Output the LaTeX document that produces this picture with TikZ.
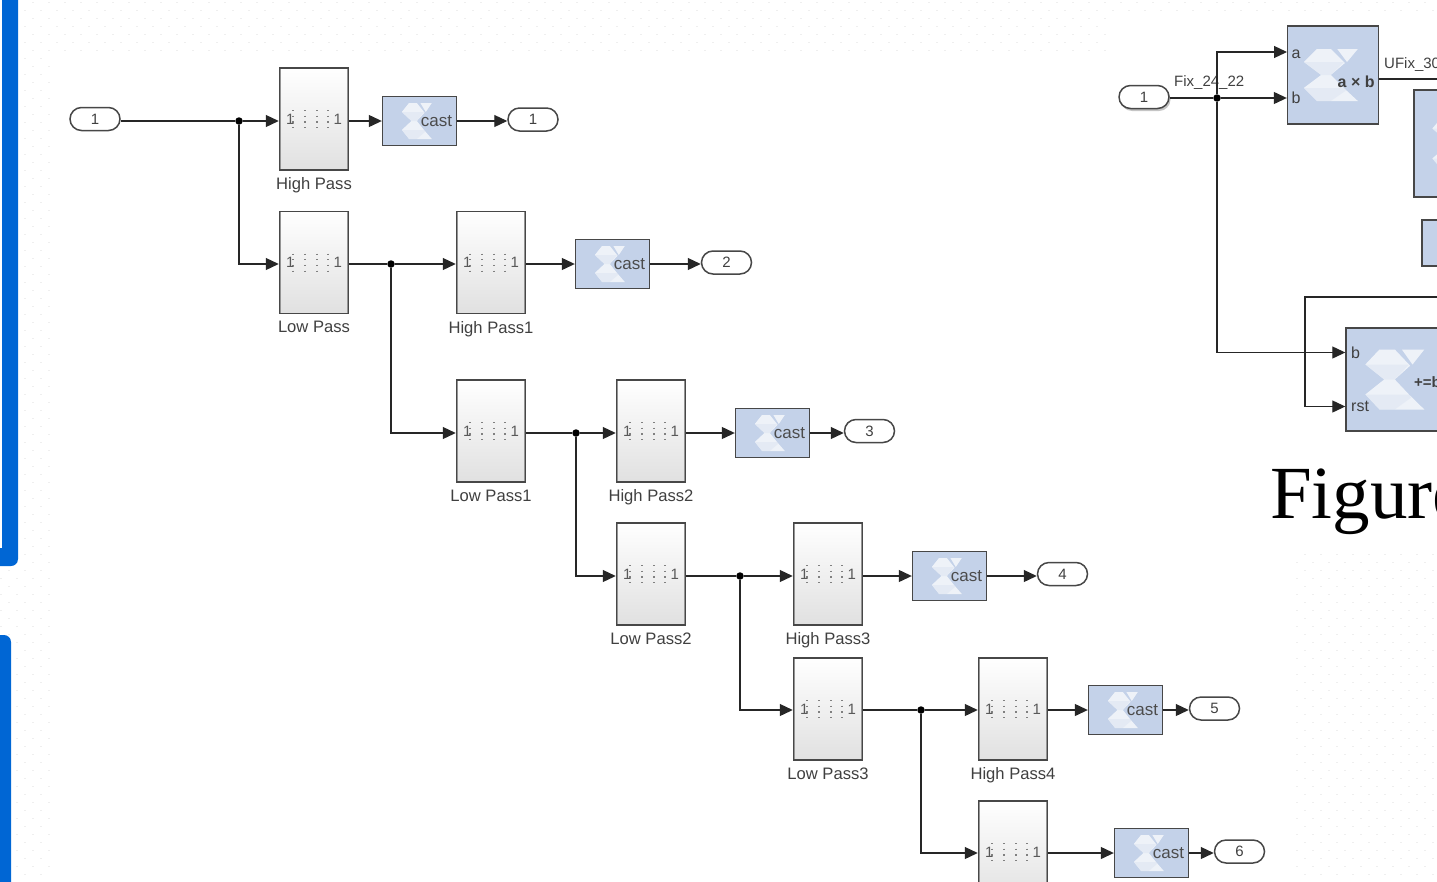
\documentclass[tikz,border=0pt]{standalone}
\usepackage{fontspec}
\setmainfont{Liberation Sans}
\newfontfamily\figfont{Liberation Serif}
\usetikzlibrary{arrows.meta,shadows}
\definecolor{blockblue}{HTML}{C4D2E9}
\definecolor{barblue}{HTML}{0066D4}
\definecolor{griddot}{HTML}{EFEFEF}
\newcommand{\xlogo}[4]{% block, left offset, width, height
	\begin{scope}[shift={(#1.west)}, xshift=#2pt, yshift=0.5*#4 pt, x=#3pt, y=-#4pt]
		\fill[blockpale] (.24,0) -- (.5,0) -- (.76,.27) -- (.5,.5) -- (.74,.75) -- (1,1) -- (.24,1) -- (0,.75) -- (.32,.5) -- (0,.25) -- cycle;
		\fill[blockpale] (.62,0) -- (1,0) -- (.8,.25) -- cycle;
		\fill[blockshade] (0,.25) -- (.74,.25) -- (.5,.5) -- (.32,.5) -- cycle;
		\fill[blockshade] (0,.75) -- (.74,.75) -- (.78,.8) -- (.5,1) -- (.24,1) -- cycle;
	\end{scope}}
\newcommand{\castblock}[3]{% name, x, y
	\node[cst] (#1) at (#2,#3) {};
	\xlogo{#1}{20}{30}{36}
	\node[csttxt] (#1t) at ([xshift=-5pt]#1.east) {cast};}
\newcommand{\filtmark}{%
	\draw[black!42, line width=3.4pt] (path picture bounding box.north west) -- (path picture bounding box.south west);
	\draw[black!42, line width=3.4pt] (path picture bounding box.north east) -- (path picture bounding box.south east);
	\foreach \c in {-21,-9,3,14}
		\draw[black!50, line width=1.1pt, dash pattern=on 1.1pt off 4.6pt] ([xshift=\c pt, yshift=9pt]path picture bounding box.center) -- ++(0,-20pt);}
\tikzset{
	blockpale/.style = {fill=white, fill opacity=.72},
	blockshade/.style = {fill=blockblue, fill opacity=.22},
	txt/.style = {text=black!75, font=\fontsize{16}{16}\selectfont, inner sep=0pt},
	filt/.style = {draw=black!72, line width=1.5pt, minimum width=69pt, minimum height=102pt, inner sep=0pt,
		top color=white, middle color=white!98!black, bottom color=black!12, text=black!65,
		font=\fontsize{15}{15}\selectfont, path picture={\filtmark},
		label={[txt, font=\fontsize{16.6}{17}\selectfont, yshift=-7pt]below:#1}},
	cst/.style = {draw=black!72, line width=1.4pt, fill=blockblue, minimum width=74pt, minimum height=49pt, inner sep=0pt},
	csttxt/.style = {anchor=east, inner sep=0pt, text=black!70, font=\fontsize{17}{17}\selectfont},
	blk/.style = {draw=black!72, line width=1.4pt, fill=blockblue, inner sep=0pt},
	port/.style = {draw=black!72, line width=1.5pt, fill=white, rounded corners=11.5pt, minimum width=50pt, minimum height=23pt,
		inner sep=0pt, text=black!75, font=\fontsize{15}{15}\selectfont},
	jn/.style = {circle, fill=black, inner sep=0pt, minimum size=7.5pt},
	wire/.style = {line width=1.2pt, draw=black!85, -{Triangle[length=13pt,width=12pt]}},
	plain/.style = {line width=1.2pt, draw=black!85}
}
\begin{document}
\begin{tikzpicture}[x=1pt, y=-1pt]
	\useasboundingbox (0,0) rectangle (1437,881);
	\clip (0,0) rectangle (1437,881);
	
	% page dots
	\foreach \r in {2.7,18.7,...,881}
		\draw[griddot, line width=1.4pt, dash pattern=on 1.4pt off 14.6pt] (0.3,\r) -- (1437,\r);
	\foreach \r in {10.7,26.7,...,881}
		\draw[griddot, line width=1.4pt, dash pattern=on 1.4pt off 14.6pt] (8.3,\r) -- (1437,\r);
	\fill[white] (52,56) rectangle (1295,881);
	\fill[white] (1108,14) rectangle (1437,549);
	\fill[barblue, rounded corners=7pt] (-10,-10) rectangle (18,566);
	\fill[white] (0,0) rectangle (1.8,548);
	\fill[barblue, rounded corners=7pt] (-10,635) rectangle (11,900);
	
	% junctions
	\node[jn] (d1) at (239,121) {};
	\node[jn] (d2) at (391,264) {};
	\node[jn] (d3) at (576,433) {};
	\node[jn] (d4) at (740,576) {};
	\node[jn] (d5) at (921,710) {};
	\node[jn] (d6) at (1217,98) {};
	
	% filter tree
	\node[port] (in1) at (95,119) {1};
	\node[filt=High Pass] (hp1) at (314,119) {\raisebox{-2pt}{\makebox[56pt]{1\hfill 1}}};
	\node[filt=Low Pass] (lp1) at (314,262.5) {\raisebox{-2pt}{\makebox[56pt]{1\hfill 1}}};
	\node[filt=High Pass1] (hp2) at (491,262.5) {\raisebox{-2pt}{\makebox[56pt]{1\hfill 1}}};
	\node[filt=Low Pass1] (lp2) at (491,431) {\raisebox{-2pt}{\makebox[56pt]{1\hfill 1}}};
	\node[filt=High Pass2] (hp3) at (651,431) {\raisebox{-2pt}{\makebox[56pt]{1\hfill 1}}};
	\node[filt=Low Pass2] (lp3) at (651,574) {\raisebox{-2pt}{\makebox[56pt]{1\hfill 1}}};
	\node[filt=High Pass3] (hp4) at (828,574) {\raisebox{-2pt}{\makebox[56pt]{1\hfill 1}}};
	\node[filt=Low Pass3] (lp4) at (828,709) {\raisebox{-2pt}{\makebox[56pt]{1\hfill 1}}};
	\node[filt=High Pass4] (hp5) at (1013,709) {\raisebox{-2pt}{\makebox[56pt]{1\hfill 1}}};
	\node[filt=] (hp6) at (1013,852) {\raisebox{-2pt}{\makebox[56pt]{1\hfill 1}}};
	
	\castblock{c1}{419.5}{121}
	\castblock{c2}{612.5}{264}
	\castblock{c3}{772.5}{433}
	\castblock{c4}{949.5}{576}
	\castblock{c5}{1125.5}{710}
	\castblock{c6}{1151.5}{853}
	
	\node[port] (q1) at (533,119.5) {1};
	\node[port] (q2) at (726.5,262.5) {2};
	\node[port] (q3) at (869.5,431) {3};
	\node[port] (q4) at (1062.5,574) {4};
	\node[port] (q5) at (1214.5,708.5) {5};
	\node[port] (q6) at (1239.5,851.5) {6};
	
	\draw[plain] (in1.east |- d1) -- (d1);
	\draw[wire] (d1) -- (d1 -| hp1.west);
	\draw[wire] (d1) |- (lp1.west |- d2);
	\draw[plain] (lp1.east |- d2) -- (d2);
	\draw[wire] (d2) -- (d2 -| hp2.west);
	\draw[wire] (d2) |- (lp2.west |- d3);
	\draw[plain] (lp2.east |- d3) -- (d3);
	\draw[wire] (d3) -- (d3 -| hp3.west);
	\draw[wire] (d3) |- (lp3.west |- d4);
	\draw[plain] (lp3.east |- d4) -- (d4);
	\draw[wire] (d4) -- (d4 -| hp4.west);
	\draw[wire] (d4) |- (lp4.west |- d5);
	\draw[plain] (lp4.east |- d5) -- (d5);
	\draw[wire] (d5) -- (d5 -| hp5.west);
	\draw[wire] (d5) |- (hp6.west |- c6);
	
	\draw[wire] (hp1.east |- c1) -- (c1);
	\draw[wire] (hp2.east |- c2) -- (c2);
	\draw[wire] (hp3.east |- c3) -- (c3);
	\draw[wire] (hp4.east |- c4) -- (c4);
	\draw[wire] (hp5.east |- c5) -- (c5);
	\draw[wire] (hp6.east |- c6) -- (c6);
	
	\draw[wire] (c1) -- (q1.west |- c1);
	\draw[wire] (c2) -- (q2.west |- c2);
	\draw[wire] (c3) -- (q3.west |- c3);
	\draw[wire] (c4) -- (q4.west |- c4);
	\draw[wire] (c5) -- (q5.west |- c5);
	\draw[wire] (c6) -- (q6.west |- c6);
	
	% right hand model
	\node[port, drop shadow={shadow xshift=1.5pt, shadow yshift=-2.5pt, opacity=.45}] (in2) at (1144,97) {1};
	\node[blk, minimum width=91pt, minimum height=98pt] (mul) at (1333,75) {};
	\xlogo{mul}{17}{54}{52}
	\node[blk, minimum width=92pt, minimum height=107pt] (reg) at (1460,143.5) {};
	\xlogo{reg}{19}{54}{60}
	\node[blk, minimum width=92pt, minimum height=46pt] (slc) at (1468,243) {};
	\node[blk, minimum width=92pt, minimum height=103pt] (acc) at (1392,379.5) {};
	\xlogo{acc}{20}{59}{60}
	
	\node[txt, anchor=west] (ma) at (1291.5,54) {a};
	\node[txt, anchor=west] (mb) at (1291.5,98) {b};
	\node[txt, anchor=west, font=\bfseries\fontsize{16}{16}\selectfont] (mop) at (1337.5,82) {a × b};
	\node[txt, anchor=west] (ab) at (1351,352.5) {b};
	\node[txt, anchor=west] (ar) at (1351,406.5) {rst};
	\node[txt, anchor=west, font=\bfseries\fontsize{15}{15}\selectfont] (aop) at (1414,382) {+=b};
	\node[txt, anchor=west, font=\fontsize{15}{15}\selectfont] (fixl) at (1174,83) {Fix\_24\_22};
	\node[txt, anchor=west, font=\fontsize{15}{15}\selectfont] (ufl) at (1384,64.5) {UFix\_30};
	\node[anchor=base west, inner sep=0pt, text=black, font=\figfont\fontsize{75}{75}\selectfont] (fig) at (1270,518) {Figure};
	
	\coordinate (mo) at (1445,79);
	\coordinate (fb) at (1445,297);
	\coordinate (ft) at (1305,297);
	\coordinate (ta) at (1287,52);
	
	\draw[plain] (in2.east |- d6) -- (d6);
	\draw[wire] (d6) -- (mul.west |- d6);
	\draw[wire] (d6) |- (ta);
	\draw[wire] (d6) |- (acc.west |- ab);
	\draw[plain] (mul.east |- mo) -- (mo);
	\draw[wire] (fb) -- (ft) |- (acc.west |- ar);
\end{tikzpicture}
\end{document}
